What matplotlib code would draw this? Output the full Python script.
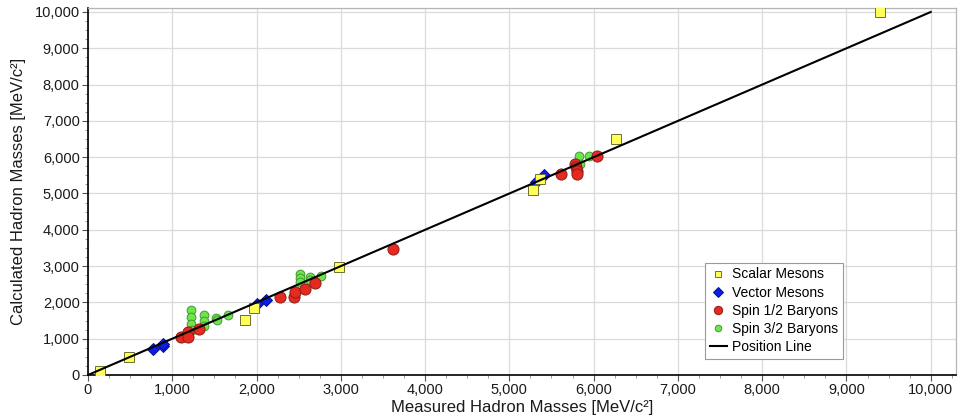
import matplotlib
matplotlib.use("Agg")
import matplotlib.pyplot as plt
from matplotlib.ticker import MultipleLocator, FuncFormatter

plt.rcParams['font.family'] = ['Liberation Sans', 'DejaVu Sans']

# Scalar Mesons
scalar_x = [140, 490, 1865, 1965, 2980, 5280, 5365, 6267, 9400]
scalar_y = [120, 490, 1505, 1855, 2983, 5100, 5395, 6492, 9990]

# Vector Mesons
vector_x = [772, 887, 895, 2010, 2110, 5317, 5408]
vector_y = [705, 800, 845, 1955, 2063, 5312, 5516]

# Spin 1/2 Baryons
spin12_x = [1108, 1188, 1190, 1314, 2275, 2447, 2458, 2577, 2688, 3614,
            5614, 5784, 5792, 5803, 5803, 6037]
spin12_y = [1058, 1180, 1040, 1270, 2140, 2136, 2293, 2367, 2523, 3461,
            5533, 5801, 5727, 5617, 5525, 6022]

# Spin 3/2 Baryons
spin32_x = [1227, 1227, 1227, 1232, 1381, 1381, 1381, 1520, 1525, 1667,
            2510, 2510, 2510, 2637, 2637, 2764, 5823, 5839, 5942]
spin32_y = [1796, 1602, 1409, 1235, 1657, 1492, 1362, 1583, 1510, 1657,
            2782, 2671, 2550, 2688, 2615, 2735, 6041, 5820, 6022]

# Position line
line_x = [0, 10000]
line_y = [0, 10000]

fig = plt.figure(figsize=(9.59, 4.18), dpi=100)
ax = fig.add_axes([88/959, 1 - 375/418, (956-88)/959, (375-8)/418])

ax.plot(spin32_x, spin32_y, 'o', ms=6.3, mfc='#6EE54C', mec='#3F9A30', mew=0.7,
        label='Spin 3/2 Baryons', zorder=3, ls='none')
ax.plot(spin12_x, spin12_y, 'o', ms=8, mfc='#E8291F', mec='#8A1E18', mew=0.7,
        label='Spin 1/2 Baryons', zorder=4, ls='none')
ax.plot(vector_x, vector_y, 'D', ms=6.3, mfc='#0A1EE6', mec='#06108A', mew=0.7,
        label='Vector Mesons', zorder=5, ls='none')
ax.plot(scalar_x, scalar_y, 's', ms=6.5, mfc='#FFFF5A', mec='#6E6E30', mew=0.7,
        label='Scalar Mesons', zorder=6, ls='none')
ax.plot(line_x, line_y, '-', color='black', lw=1.5, label='Position Line', zorder=7)

ax.set_xlim(0, 10300)
ax.set_ylim(0, 10110)

ax.xaxis.set_major_locator(MultipleLocator(1000))
ax.yaxis.set_major_locator(MultipleLocator(1000))
ax.xaxis.set_minor_locator(MultipleLocator(250))
ax.yaxis.set_minor_locator(MultipleLocator(250))
fmt = FuncFormatter(lambda v, p: f"{int(round(v)):,}")
ax.xaxis.set_major_formatter(fmt)
ax.yaxis.set_major_formatter(fmt)

ax.grid(True, which='major', color='#DADADA', lw=0.9, zorder=0)
ax.set_axisbelow(True)

for s in ['left', 'bottom']:
    ax.spines[s].set_color('black')
    ax.spines[s].set_linewidth(1.2)
for s in ['top', 'right']:
    ax.spines[s].set_color('#B4B4B4')
    ax.spines[s].set_linewidth(0.9)

ax.tick_params(which='major', direction='out', length=4, width=0.8, color='#555555',
               labelsize=10.5, labelcolor='#1A1A1A', pad=2)
ax.tick_params(which='minor', direction='out', length=2.5, width=0.6, color='#888888')

ax.set_xlabel('Measured Hadron Masses [MeV/c²]', fontsize=12, color='#1A1A1A', labelpad=2)
ax.set_ylabel('Calculated Hadron Masses [MeV/c²]', fontsize=12, color='#1A1A1A', labelpad=6)

handles, labels = ax.get_legend_handles_labels()
order = ['Scalar Mesons', 'Vector Mesons', 'Spin 1/2 Baryons', 'Spin 3/2 Baryons', 'Position Line']
hmap = dict(zip(labels, handles))
leg = ax.legend([hmap[l] for l in order], order, loc='lower left',
                bbox_to_anchor=(0.711, 0.0436), fontsize=10, frameon=True,
                fancybox=False, framealpha=1, edgecolor='#9A9A9A',
                handlelength=1.2, handletextpad=0.4, labelspacing=0.3,
                borderpad=0.35, markerscale=0.75, borderaxespad=0)
leg.get_frame().set_linewidth(0.8)

fig.savefig('out.png', dpi=100)
